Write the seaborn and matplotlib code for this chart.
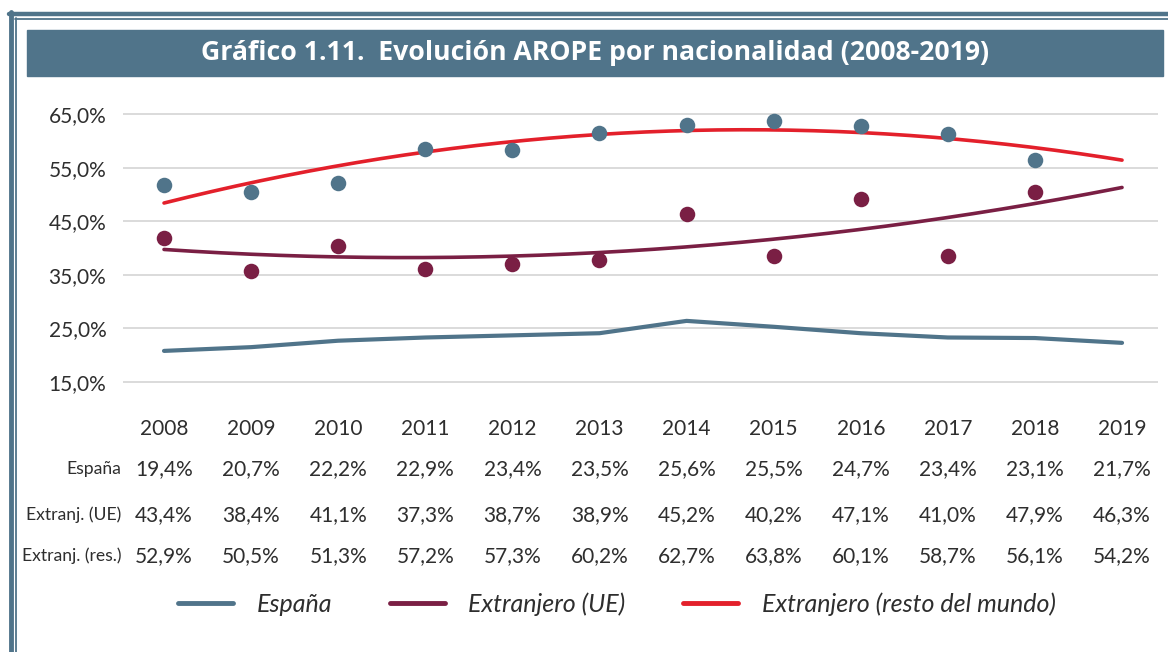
import numpy as np
import pandas as pd
import matplotlib.pyplot as plt
import matplotlib.transforms as mtransforms
from matplotlib.patches import Rectangle
from matplotlib.lines import Line2D
import seaborn as sns

sns.set_style("white")
plt.rcParams['font.family'] = ['Lato', 'DejaVu Sans']

# --- datos ---
anios = ['2008', '2009', '2010', '2011', '2012', '2013',
         '2014', '2015', '2016', '2017', '2018', '2019']
# valores dibujados
linea_espana = [20.8, 21.5, 22.7, 23.3, 23.7, 24.1, 26.4, 25.3, 24.1, 23.3, 23.2, 22.3]
puntos_ue = [41.9, 35.8, 40.4, 36.1, 37.1, 37.8, 46.3, 38.5, 49.1, 38.6, 50.5]
puntos_resto = [51.7, 50.4, 52.2, 58.5, 58.2, 61.5, 62.9, 63.7, 62.8, 61.2, 56.4]
# tabla de datos bajo el gráfico
tabla_espana = [19.4, 20.7, 22.2, 22.9, 23.4, 23.5, 25.6, 25.5, 24.7, 23.4, 23.1, 21.7]
tabla_ue = [43.4, 38.4, 41.1, 37.3, 38.7, 38.9, 45.2, 40.2, 47.1, 41.0, 47.9, 46.3]
tabla_resto = [52.9, 50.5, 51.3, 57.2, 57.3, 60.2, 62.7, 63.8, 60.1, 58.7, 56.1, 54.2]
filas = ['España', 'Extranj. (UE)', 'Extranj. (res.)']
y_ticks = [15, 25, 35, 45, 55, 65]

AZUL = '#50748a'
GRANATE = '#7a1f44'
ROJO = '#e3202b'
TEXTO = '#2e2e2e'

W, H = 1168, 652
fig = plt.figure(figsize=(W / 100, H / 100), dpi=100)


def px(x, y):
    return x / W, 1 - y / H


# marco doble
for (x0, y0, x1, y1, lw) in [(9, 13.5, W, 13.5, 3.2), (11, 12, 11, H, 3.5),
                             (15, 18.5, W, 18.5, 1.3), (15.5, 18, 15.5, H, 1.3)]:
    a, b = px(x0, y0)
    c, d = px(x1, y1)
    fig.add_artist(Line2D([a, c], [b, d], color=AZUL, lw=lw, transform=fig.transFigure))

# cabecera
bx, by = px(27, 76)
fig.add_artist(Rectangle((bx, by), (1163 - 27) / W, 46 / H, color=AZUL,
                         transform=fig.transFigure, zorder=1))
tx, ty = px(595, 53)
fig.text(tx, ty, 'Gráfico 1.11.  Evolución AROPE por nacionalidad (2008-2019)',
         ha='center', va='center', color='white', fontsize=19.2, fontweight='bold',
         family=['Open Sans', 'DejaVu Sans'], zorder=2)

# ejes
ax = fig.add_axes([123 / W, (H - 392.7) / H, 1035 / W, 289.4 / H])
x_all = np.arange(len(anios))
x_pts = np.arange(len(puntos_ue))

sns.lineplot(x=x_all, y=linea_espana, color=AZUL, lw=3, ax=ax, label='España')

# líneas de tendencia polinómicas (orden 2)
x_fino = np.linspace(0, len(anios) - 1, 200)
tend_ue = np.polyval(np.polyfit(x_pts, puntos_ue, 2), x_fino)
tend_resto = np.polyval(np.polyfit(x_pts, puntos_resto, 2), x_fino)
sns.lineplot(x=x_fino, y=tend_ue, color=GRANATE, lw=2.6, ax=ax, label='Extranjero (UE)')
sns.lineplot(x=x_fino, y=tend_resto, color=ROJO, lw=2.6, ax=ax,
             label='Extranjero (resto del mundo)')

sns.scatterplot(x=x_pts, y=puntos_ue, color=GRANATE, s=125, linewidth=0, ax=ax, zorder=5)
sns.scatterplot(x=x_pts, y=puntos_resto, color=AZUL, s=125, linewidth=0, ax=ax, zorder=5)

ax.set_xlim(-0.471, 11.413)
ax.set_ylim(13, 67)
ax.set_yticks(y_ticks)
ax.set_yticklabels([f'{v:.1f}%'.replace('.', ',') for v in y_ticks],
                   fontsize=15, color=TEXTO)
ax.set_xticks(x_all)
ax.set_xticklabels(anios, fontsize=15, color=TEXTO)
ax.tick_params(axis='y', length=0, pad=12)
ax.tick_params(axis='x', length=0, pad=19)
ax.grid(axis='y', color='#d4d4d4', lw=1.2)
ax.grid(axis='x', visible=False)
for s in ax.spines.values():
    s.set_visible(False)

handles, labels = ax.get_legend_handles_labels()
ax.get_legend().remove()

# tabla de datos
trans = mtransforms.blended_transform_factory(ax.transData, fig.transFigure)
for fila, vals, ypix in zip(filas, [tabla_espana, tabla_ue, tabla_resto], [469, 515, 556]):
    yf = 1 - ypix / H
    fig.text(121 / W, yf, fila, ha='right', va='center', fontsize=12.6, color=TEXTO)
    for i, v in enumerate(vals):
        ax.text(i, yf, f'{v:.1f}%'.replace('.', ','), transform=trans, ha='center',
                va='center', fontsize=15, color=TEXTO)

leg = fig.legend(handles, labels, loc='center', bbox_to_anchor=(617 / W, 1 - 604 / H),
                 ncol=3, frameon=False, handlelength=2.2, handletextpad=0.95,
                 columnspacing=2.3, prop={'size': 18, 'style': 'italic'})
for t in leg.get_texts():
    t.set_color(TEXTO)
for h in leg.legend_handles:
    h.set_linewidth(3.5)

fig.savefig('out.png', dpi=100)
